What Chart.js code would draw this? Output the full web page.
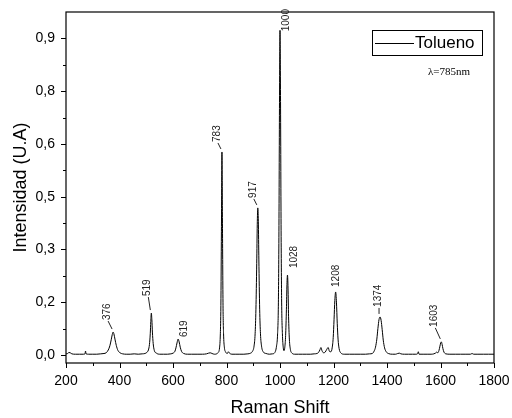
<!DOCTYPE html>
<html>
<head>
<meta charset="utf-8">
<script src="https://cdn.jsdelivr.net/npm/chart.js@4.4.1/dist/chart.umd.min.js"></script>
<style>
  html, body { margin: 0; padding: 0; background: #fff; }
</style>
</head>
<body>
<canvas id="ramanChart" width="512" height="418"></canvas>
<script>
// Raman spectrum of toluene
const ramanShift = [
  200, 206, 211, 216, 222, 235, 250, 265, 271, 273, 275, 285, 300, 315, 330, 342,
  350, 358, 364, 369, 373, 376, 379, 383, 388, 394, 402, 412, 425, 440, 455, 470,
  485, 495, 502, 508, 512, 515, 517, 519, 521, 523, 526, 530, 538, 550, 565, 580,
  592, 600, 607, 611, 615, 619, 623, 627, 632, 640, 655, 670, 690, 710, 725, 733,
  739, 746, 755, 763, 768, 774, 777, 779, 781, 783, 785, 787, 789, 792, 797, 803,
  807, 811, 820, 835, 850, 865, 880, 890, 897, 903, 907, 910, 913, 915, 917, 919,
  921, 924, 927, 931, 938, 948, 960, 972, 980, 987, 991, 994, 996, 998, 1000, 1002,
  1004, 1006, 1009, 1012, 1015, 1018, 1021, 1024, 1026, 1028, 1030, 1032, 1035, 1039, 1045, 1055,
  1070, 1085, 1100, 1115, 1128, 1138, 1144, 1149, 1153, 1157, 1163, 1169, 1175, 1180, 1185, 1190,
  1195, 1199, 1202, 1205, 1208, 1211, 1214, 1217, 1221, 1227, 1240, 1260, 1280, 1300, 1320, 1335,
  1345, 1352, 1357, 1362, 1366, 1370, 1374, 1378, 1382, 1386, 1391, 1397, 1405, 1420, 1432, 1440,
  1446, 1452, 1465, 1480, 1495, 1508, 1514, 1517, 1520, 1535, 1550, 1565, 1575, 1581, 1586, 1590,
  1594, 1598, 1601, 1603, 1606, 1609, 1613, 1620, 1635, 1655, 1675, 1695, 1712, 1718, 1724, 1740,
  1760, 1780, 1800
];
const intensity = [
  0.003, 0.004, 0.007, 0.006, 0.003, 0.002, 0.002, 0.002, 0.003, 0.011, 0.003, 0.002, 0.002, 0.002, 0.003, 0.004,
  0.006, 0.014, 0.026, 0.043, 0.058, 0.065, 0.060, 0.045, 0.027, 0.013, 0.006, 0.003, 0.002, 0.002, 0.003, 0.002,
  0.003, 0.004, 0.007, 0.014, 0.030, 0.060, 0.095, 0.119, 0.100, 0.065, 0.032, 0.013, 0.005, 0.002, 0.002, 0.002,
  0.003, 0.005, 0.010, 0.020, 0.034, 0.045, 0.037, 0.022, 0.010, 0.004, 0.002, 0.002, 0.002, 0.002, 0.003, 0.005,
  0.006, 0.004, 0.002, 0.003, 0.006, 0.020, 0.060, 0.140, 0.350, 0.577, 0.360, 0.140, 0.060, 0.022, 0.008, 0.004,
  0.009, 0.005, 0.002, 0.002, 0.002, 0.002, 0.003, 0.005, 0.010, 0.025, 0.060, 0.130, 0.260, 0.370, 0.418, 0.380,
  0.270, 0.130, 0.060, 0.025, 0.008, 0.004, 0.002, 0.003, 0.006, 0.025, 0.060, 0.150, 0.350, 0.700, 0.923, 0.720,
  0.370, 0.160, 0.060, 0.022, 0.012, 0.022, 0.055, 0.130, 0.200, 0.227, 0.190, 0.110, 0.045, 0.015, 0.005, 0.002,
  0.002, 0.002, 0.002, 0.002, 0.003, 0.004, 0.007, 0.014, 0.021, 0.012, 0.006, 0.008, 0.016, 0.021, 0.010, 0.009,
  0.020, 0.050, 0.100, 0.155, 0.179, 0.150, 0.090, 0.045, 0.018, 0.006, 0.002, 0.002, 0.002, 0.002, 0.002, 0.003,
  0.004, 0.011, 0.022, 0.045, 0.075, 0.100, 0.108, 0.098, 0.072, 0.042, 0.020, 0.009, 0.004, 0.002, 0.002, 0.004,
  0.005, 0.003, 0.002, 0.002, 0.002, 0.002, 0.003, 0.009, 0.002, 0.002, 0.002, 0.002, 0.003, 0.005, 0.008, 0.006,
  0.012, 0.025, 0.035, 0.037, 0.030, 0.018, 0.008, 0.003, 0.002, 0.002, 0.002, 0.002, 0.002, 0.004, 0.002, 0.002,
  0.002, 0.002, 0.002
];

const peakShift = [376, 519, 619, 783, 917, 1000, 1028, 1208, 1374, 1603];
const peakLabels = ["376", "519", "619", "783", "917", "1000", "1028", "1208", "1374", "1603"];

const xTicks = [200, 400, 600, 800, 1000, 1200, 1400, 1600, 1800];
const xTickLabels = ["200", "400", "600", "800", "1000", "1200", "1400", "1600", "1800"];
const yTicks = [0, 0.15, 0.3, 0.45, 0.6, 0.75, 0.9];
const yTickLabels = ["0,0", "0,2", "0,3", "0,5", "0,6", "0,8", "0,9"];

// where each peak label sits relative to its peak (px)
const labelDx = [-6, -4, 6, -5, -5, 6.5, 7, 1, -2, -7];
const labelDy = [12, 17, 2, 10, 10, -1, 7, 5, 10, 15];

const FONT = "Arial, 'Liberation Sans', sans-serif";

function fixBox(scale, w, h) {
  if (w !== null) scale.width = w;
  if (h !== null) scale.height = h;
  scale.paddingLeft = 0;
  scale.paddingRight = 0;
  scale.paddingTop = 0;
  scale.paddingBottom = 0;
}

const originFrame = {
  id: "originFrame",
  afterDraw(chart) {
    const { ctx, chartArea: a, scales: { x, y } } = chart;
    ctx.save();
    ctx.strokeStyle = "#000";
    ctx.lineWidth = 1.2;
    ctx.strokeRect(a.left, a.top, a.right - a.left, a.bottom - a.top);

    // ticks, outward
    ctx.lineWidth = 1;
    ctx.beginPath();
    xTicks.forEach((v, i) => {
      const px = Math.round(x.getPixelForValue(v)) + 0.5;
      ctx.moveTo(px, a.bottom); ctx.lineTo(px, a.bottom + 5);
      if (i < xTicks.length - 1) {
        const mx = Math.round(x.getPixelForValue((v + xTicks[i + 1]) / 2)) + 0.5;
        ctx.moveTo(mx, a.bottom); ctx.lineTo(mx, a.bottom + 3);
      }
    });
    yTicks.forEach((v, i) => {
      const py = Math.round(y.getPixelForValue(v)) + 0.5;
      ctx.moveTo(a.left, py); ctx.lineTo(a.left - 5, py);
      if (i < yTicks.length - 1) {
        const my = Math.round(y.getPixelForValue((v + yTicks[i + 1]) / 2)) + 0.5;
        ctx.moveTo(a.left, my); ctx.lineTo(a.left - 3, my);
      }
    });
    ctx.stroke();

    // peak labels
    ctx.font = "10px " + FONT;
    ctx.fillStyle = "#222";
    ctx.strokeStyle = "#222";
    peakShift.forEach((s, i) => {
      let top = 0;
      ramanShift.forEach((r, j) => {
        if (Math.abs(r - s) <= 4 && intensity[j] > top) top = intensity[j];
      });
      const px = x.getPixelForValue(s);
      const py = y.getPixelForValue(top);
      const tx = px + labelDx[i];
      const ty = py - labelDy[i];
      if (labelDy[i] >= 9) {
        ctx.beginPath();
        ctx.moveTo(tx + 1, ty + 1);
        ctx.lineTo(px - 1, py - 3);
        ctx.stroke();
      }
      ctx.save();
      ctx.translate(tx, ty);
      ctx.rotate(-Math.PI / 2);
      ctx.textAlign = "left";
      ctx.textBaseline = "middle";
      ctx.fillText(peakLabels[i], 0, 0);
      ctx.restore();
    });

    // legend box
    ctx.fillStyle = "#000";
    ctx.strokeStyle = "#000";
    ctx.lineWidth = 1;
    ctx.strokeRect(372.5, 30.5, 110, 25);
    ctx.beginPath();
    ctx.moveTo(375, 43.5); ctx.lineTo(414, 43.5);
    ctx.stroke();
    ctx.font = "17px " + FONT;
    ctx.textAlign = "left";
    ctx.textBaseline = "middle";
    ctx.fillText("Tolueno", 415, 43.5);

    ctx.font = "11px 'Liberation Serif', 'Times New Roman', serif";
    ctx.fillText("λ=785nm", 428, 72);

    // axis titles
    ctx.font = "18px " + FONT;
    ctx.textAlign = "center";
    ctx.textBaseline = "alphabetic";
    ctx.fillText("Raman Shift", (a.left + a.right) / 2, 413);
    ctx.save();
    ctx.translate(26, 187.5);
    ctx.rotate(-Math.PI / 2);
    ctx.fillText("Intensidad (U.A)", 0, 0);
    ctx.restore();
    ctx.restore();
  }
};

const ctx = document.getElementById("ramanChart").getContext("2d");
new Chart(ctx, {
  type: "line",
  data: {
    datasets: [
      {
        label: "Tolueno",
        data: ramanShift.map((r, i) => ({ x: r, y: intensity[i] })),
        borderColor: "#000",
        borderWidth: 1,
        pointRadius: 0,
        fill: false,
        tension: 0.4,
        cubicInterpolationMode: "monotone",
      },
    ],
  },
  options: {
    responsive: false,
    animation: false,
    layout: { padding: { top: 12, right: 18, left: 0, bottom: 0 } },
    plugins: { legend: { display: false }, tooltip: { enabled: false } },
    scales: {
      x: {
        type: "linear",
        min: 200,
        max: 1800,
        afterBuildTicks: (scale) => { scale.ticks = xTicks.map((v) => ({ value: v })); },
        afterFit: (scale) => fixBox(scale, null, 55),
        grid: { display: false, drawTicks: false },
        border: { display: false },
        ticks: {
          font: { family: FONT, size: 14 },
          color: "#000",
          padding: 10,
          maxRotation: 0,
          autoSkip: false,
          callback: (v, i) => xTickLabels[i],
        },
      },
      y: {
        type: "linear",
        min: -0.023,
        max: 0.975,
        afterBuildTicks: (scale) => { scale.ticks = yTicks.map((v) => ({ value: v })); },
        afterFit: (scale) => fixBox(scale, 66, null),
        grid: { display: false, drawTicks: false },
        border: { display: false },
        ticks: {
          font: { family: FONT, size: 14 },
          color: "#000",
          padding: 11,
          autoSkip: false,
          callback: (v, i) => yTickLabels[i],
        },
      },
    },
  },
  plugins: [originFrame],
});
</script>
</body>
</html>
